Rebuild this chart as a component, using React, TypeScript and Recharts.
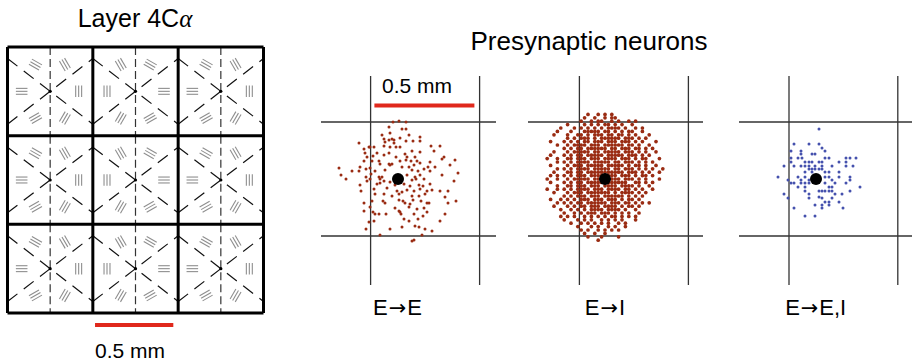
import React from 'react';
import { ScatterChart, Scatter, XAxis, YAxis, ReferenceLine } from 'recharts';

// ---- left panel: layer 4Cα hypercolumn grid, in µm ----
const hcWidth = 545;
const hcHeight = 570;
const hcCols = [0, 1, 2];
const hcRows = [0, 1, 2];
const colType = ['A', 'B', 'A'];

// orientation-bar groups around each pinwheel centre (µm from centre)
const barSpots = [
  [-182, 0], [-94, 172], [94, 172], [182, 0], [94, -172], [-94, -172],
];
// preferred orientation (deg) at each spot, for the two pinwheel types
const orientA = [0, 150, 120, 90, 60, 30];
const orientB = [90, 120, 150, 0, 30, 60];
const barHalf = 37;
const barGap = 19;
// dashed X through the centre meets the cell edge this far above / below (µm)
const crossRise = 211;

// ---- right panels: presynaptic cells relative to the target soma, in µm ----
const eePoints = [
  [-25, 285], [5, 290], [40, 285], [-45, 260], [20, 250], [40, 250],
  [-80, 220], [-40, 230], [55, 220], [-70, 200], [-45, 195], [-30, 200], [-20, 195], [10, 205], [110, 210],
  [-195, 180], [-65, 185], [-20, 180], [40, 190], [75, 190], [110, 190], [165, 165], [210, 165],
  [-170, 150], [-145, 160], [-140, 160], [-120, 160], [-40, 160], [-10, 160], [10, 160], [-70, 165],
  [-165, 130], [-105, 130], [-45, 130], [70, 140], [110, 135], [180, 140], [35, 125],
  [-155, 110], [-125, 115], [-70, 120], [-10, 110], [45, 110], [85, 110], [230, 110], [220, 100], [285, 95],
  [-170, 90], [-130, 90], [-95, 90], [10, 90], [40, 95], [65, 90], [95, 90], [110, 80], [160, 85],
  [-190, 60], [-90, 75], [-45, 75], [-40, 70], [-30, 75], [20, 60], [55, 60], [80, 70], [150, 60], [185, 60], [260, 70],
  [-295, 55], [-230, 40], [-160, 50], [-140, 55], [-115, 40], [-65, 45], [70, 45], [100, 40], [130, 50], [160, 40],
  [-285, 20], [-260, 0], [-195, 40], [-160, 10], [-135, 25], [-95, 10], [-80, 10], [45, 20], [110, 20], [85, 10], [220, 20], [300, 30],
  [-155, -10], [-140, 0], [-90, 0], [-70, -10], [-40, -15], [70, -5], [90, 0], [130, 0], [280, -10],
  [-190, -30], [-105, -25], [-90, -20], [-15, -30], [30, -25], [60, -35], [105, -30], [125, -35], [160, -25],
  [-120, -50], [-55, -45], [-5, -60], [20, -65], [45, -55], [80, -60], [110, -50], [145, -60], [170, -55], [210, -60], [250, -60],
  [-185, -60], [-115, -75], [-70, -75], [-30, -85], [5, -75], [70, -85], [105, -85], [135, -75], [235, -90],
  [-75, -110], [-65, -120], [5, -105], [25, -110], [35, -120], [75, -105], [115, -110], [60, -125], [145, -120], [155, -120], [250, -120], [290, -110], [-170, -120], [-130, -110],
  [-170, -160], [-140, -140], [-125, -165], [-15, -145], [5, -160], [10, -165], [55, -140], [95, -150], [130, -145], [145, -165],
  [-115, -175], [-95, -175], [-60, -175], [15, -175], [80, -175], [125, -185], [235, -175],
  [-145, -215], [-120, -210], [30, -200], [55, -210], [100, -200], [210, -210],
  [-160, -250], [-40, -250], [20, -240], [85, -235], [105, -240], [135, -250], [170, -260],
  [-90, -280], [120, -280], [70, -310], [80, -305],
];

// E->I cells on the 17 µm cell lattice; row j = 19 at top, column index 17 = soma column
const eiPitch = 17;
const eiTopRow = 19;
const eiRows = [
  '..... ..... ..#.. #.#.# ..... ..... .....',
  '..... ..... .#..# ..#.# #.... ..... .....',
  '..... ..... #..#. ##..# .#..# .#... .....',
  '..... .#... .#.#. #.##. #.#.. #.... .....',
  '....# ...#. #.#.# .#.## ##.#. .#.#. .....',
  '...#. ..#.. .#### #.##. #.#.# #..#. .....',
  '..#.. .#..# #.#.# ##.## .##.# .#... #....',
  '..... .#.#. ###.# .#### ##.## #.#.# .....',
  '.#... #.#.# .##.# ##.## #.### .#.#. ..#..',
  '...#. .#.## ##.## #.### ###.# #.#.. #....',
  '..... #.#.# #.### ###.# #.### .##.# .#...',
  '..#.. .#.## ###.# #.### ##.## #.#.# ..#..',
  '.#... #.#.# #.### ##.## ###.# ##.#. #....',
  '#..#. .##.# ##.## #.### #.### .#.## ...#.',
  '...#. #.#.# ###.# ####. ##.## #.#.# .#...',
  '.#... .#.## #.### ##.## ###.# .##.# ..#..',
  '...#. #.#.# ###.# ####. ##.## #.#.# .#..#',
  '..#.. .##.# #.### ##### ###.# ##.#. #..#.',
  '.#.#. #.#.# ##.## ##### #.### .#.## .#...',
  '#..#. .#.## ###.# ##### ##.## #.#.# ...#.',
  '.#... #.#.# #.### ##.## ####. .##.# .#...',
  '...#. .##.# ##.## #.### #.### #.#.. #....',
  '#..#. #.#.# ###.# ##.## ##.## .#.#. .#...',
  '..#.. .#.## #.### ####. #.### #.#.# .....',
  '..... #.#.# ##.## #.### ###.# .#.#. .....',
  '.#..# .#.#. ###.# ##.## #.#.# #.#.. .....',
  '...#. #.#.# #.### ###.# ##.## .#.#. #....',
  '..#.. .#.#. ##.## #.### #.#.# #.#.. .....',
  '....# ..#.# .#.## ##.## ##.#. .#... .....',
  '..... #..#. #.### .###. #.#.# ..#.. .....',
  '....# .#.#. .#.#. #.#.# #.#.# .#... .....',
  '..... #...# .#.#. .#.#. #.#.. .#... .....',
  '..... ..#.. #.#.# .#.#. .#.#. ..... .....',
  '..... ....# ...#. #..#. #..#. ..... .....',
  '..... ..... #.#.. #.#.# .#... ..... .....',
  '..... ..... .#..# ..#.. ..... ..... .....',
  '..... ..... ..#.. .#... .#... ..... .....',
  '..... ..... ..... #.... ..... ..... .....',
];

const eeiPoints = [
  [15, 250], [-110, 175], [-35, 175], [15, 175], [30, 155], [45, 140], [-125, 140], [-75, 140],
  [-75, 125], [-20, 125], [-5, 125],
  [-125, 105], [-90, 105], [-70, 105], [45, 105], [65, 105], [150, 105], [170, 105], [200, 105],
  [-125, 85], [-55, 85], [-35, 85], [-20, 85], [15, 85], [30, 85], [115, 85], [150, 85],
  [-160, 65], [-110, 65], [-75, 65], [-55, 65], [-35, 65], [-5, 65], [30, 65], [80, 65], [150, 65], [185, 65],
  [-35, 50], [-20, 50], [-5, 50], [15, 50], [30, 50],
  [-55, 35], [-20, 35], [45, 35], [65, 35], [115, 35],
  [-190, 10], [-140, -5], [-90, 10], [-55, 10], [45, 10], [65, 10], [115, 10], [170, 10],
  [-125, -20], [-75, -5], [-35, -5], [80, -5], [170, -5],
  [-110, -20], [-75, -20], [-55, -20], [-35, -20], [45, -20], [95, -20], [150, -20],
  [-90, -40], [-55, -40], [65, -40], [80, -40], [220, -40],
  [-55, -60], [15, -60], [30, -60], [45, -60], [65, -60], [80, -60], [170, -60],
  [-160, -75], [-140, -95], [-35, -75], [15, -90], [95, -75], [130, -75],
  [-35, -95], [30, -95], [80, -95], [45, -115], [65, -115], [115, -115],
  [-5, -130], [30, -130], [65, -130], [-110, -145], [30, -145], [135, -145],
  [-55, -185], [-5, -185],
];

// hypercolumn borders around the target cell (µm from soma), per panel
const panels = [
  { pre: 'E', post: 'E', points: eePoints, color: '#9a2c13', r: 1.5, colEdges: [-137, 408], somaX: 397.5 },
  { pre: 'E', post: 'I', points: [] as number[][], color: '#9a2c13', r: 1.85, colEdges: [-128, 417], somaX: 605 },
  { pre: 'E', post: 'E,I', points: eeiPoints, color: '#4551ad', r: 1.5, colEdges: [-135, 409], somaX: 815.7 },
];
const rowEdges = [-285, 285];
const scaleBarUm = 500;

const toXY = (arr: number[][]) => arr.map(([x, y]) => ({ x, y }));

const eiPoints: number[][] = [];
eiRows.forEach((row, r) => {
  row.replace(/ /g, '').split('').forEach((ch, c) => {
    if (ch === '#') eiPoints.push([(c - 17) * eiPitch, (eiTopRow - r) * eiPitch]);
  });
});
panels[1].points = eiPoints;

const dot = (r: number, fill: string) => (p: any) => (
  <circle cx={p.cx} cy={p.cy} r={r} fill={fill} />
);

type Seg = { key: string; a: { x: number; y: number }; b: { x: number; y: number } };
const barSegs: Seg[] = [];
const crossSegs: Seg[] = [];
const axisSegs: Seg[] = [];
const centres: { x: number; y: number }[] = [];
hcRows.forEach((r) => {
  hcCols.forEach((c) => {
    const cx = (c + 0.5) * hcWidth;
    const cy = (r + 0.5) * hcHeight;
    centres.push({ x: cx, y: cy });
    const orient = colType[c] === 'A' ? orientA : orientB;
    barSpots.forEach(([bx, by], i) => {
      const t = (orient[i] * Math.PI) / 180;
      const ux = Math.cos(t);
      const uy = Math.sin(t);
      [-1, 0, 1].forEach((k) => {
        const ox = cx + bx - uy * k * barGap;
        const oy = cy + by + ux * k * barGap;
        barSegs.push({
          key: `b${r}${c}${i}${k}`,
          a: { x: ox - ux * barHalf, y: oy - uy * barHalf },
          b: { x: ox + ux * barHalf, y: oy + uy * barHalf },
        });
      });
    });
    crossSegs.push({ key: `x1${r}${c}`, a: { x: cx - hcWidth / 2, y: cy + crossRise }, b: { x: cx + hcWidth / 2, y: cy - crossRise } });
    crossSegs.push({ key: `x2${r}${c}`, a: { x: cx - hcWidth / 2, y: cy - crossRise }, b: { x: cx + hcWidth / 2, y: cy + crossRise } });
    axisSegs.push({ key: `v${r}${c}`, a: { x: cx, y: cy + hcHeight / 2 }, b: { x: cx, y: cy - hcHeight / 2 } });
  });
});

const font = "'Liberation Sans', Arial, Helvetica, sans-serif";

const Label: React.FC<{ x: number; top: number; size: number; children: React.ReactNode }> = ({ x, top, size, children }) => (
  <div
    style={{
      position: 'absolute',
      left: x - 200,
      width: 400,
      top,
      textAlign: 'center',
      fontSize: size,
      lineHeight: 1,
      whiteSpace: 'nowrap',
      color: '#000',
    }}
  >
    {children}
  </div>
);

const Arrow = () => (
  <span style={{ fontFamily: "'DejaVu Sans', sans-serif", fontSize: '0.95em', margin: '0 1px' }}>{'\u2192'}</span>
);

const LayerGrid = () => (
  <div style={{ position: 'absolute', left: 0, top: 30 }}>
    <ScatterChart width={272} height={300} margin={{ top: 17, bottom: 17, left: 7.5, right: 8.5 }}>
      <XAxis type="number" dataKey="x" hide domain={[0, 3 * hcWidth]} allowDataOverflow />
      <YAxis type="number" dataKey="y" hide domain={[0, 3 * hcHeight]} allowDataOverflow />
      {barSegs.map((s) => (
        <ReferenceLine key={s.key} segment={[s.a, s.b]} stroke="#8e8e8e" strokeWidth={1.1} />
      ))}
      {crossSegs.map((s) => (
        <ReferenceLine key={s.key} segment={[s.a, s.b]} stroke="#111" strokeWidth={1.2} strokeDasharray="12.5 8" />
      ))}
      {axisSegs.map((s) => (
        <ReferenceLine key={s.key} segment={[s.a, s.b]} stroke="#333" strokeWidth={1.2} strokeDasharray="8 4" />
      ))}
      {[0, 1, 2, 3].map((i) => (
        <ReferenceLine key={`gx${i}`} x={i * hcWidth} stroke="#000" strokeWidth={3} />
      ))}
      {[0, 1, 2, 3].map((i) => (
        <ReferenceLine key={`gy${i}`} y={i * hcHeight} stroke="#000" strokeWidth={3} />
      ))}
      <ReferenceLine
        segment={[{ x: 559, y: -77 }, { x: 559 + scaleBarUm, y: -77 }]}
        stroke="#e0281c"
        strokeWidth={4}
        ifOverflow="visible"
      />
      <Scatter data={centres} isAnimationActive={false} shape={dot(1.6, '#000')} />
    </ScatterChart>
  </div>
);

const PresynPanel: React.FC<{ idx: number }> = ({ idx }) => {
  const p = panels[idx];
  return (
    <div style={{ position: 'absolute', left: p.somaX - 80, top: 61.3 }}>
      <ScatterChart width={220} height={230} margin={{ top: 0, right: 0, bottom: 0, left: 0 }}>
        <XAxis type="number" dataKey="x" hide domain={[-400, 700]} allowDataOverflow />
        <YAxis type="number" dataKey="y" hide domain={[-560, 590]} allowDataOverflow />
        <Scatter data={toXY(p.points)} isAnimationActive={false} shape={dot(p.r, p.color)} />
        {p.colEdges.map((x) => (
          <ReferenceLine key={`v${x}`} segment={[{ x, y: -530 }, { x, y: 515 }]} stroke="#333" strokeWidth={1.3} />
        ))}
        {rowEdges.map((y) => (
          <ReferenceLine key={`h${y}`} segment={[{ x: -385, y }, { x: 490, y }]} stroke="#333" strokeWidth={1.3} />
        ))}
        {idx === 0 && (
          <ReferenceLine
            segment={[{ x: -118, y: 367 }, { x: -118 + scaleBarUm, y: 367 }]}
            stroke="#e0281c"
            strokeWidth={4}
          />
        )}
        <Scatter data={[{ x: 0, y: 0 }]} isAnimationActive={false} shape={dot(6, '#000')} />
      </ScatterChart>
    </div>
  );
};

export default function App() {
  return (
    <div
      style={{
        position: 'absolute',
        left: 0,
        top: 0,
        width: 912,
        height: 363,
        overflow: 'hidden',
        background: '#fff',
        fontFamily: font,
      }}
    >
      <LayerGrid />
      {panels.map((p, i) => (
        <PresynPanel key={p.post} idx={i} />
      ))}
      <Label x={135} top={6} size={25}>
        Layer 4C<span style={{ fontFamily: "'Liberation Serif', serif", fontStyle: 'italic' }}>α</span>
      </Label>
      <Label x={589} top={28} size={26}>
        Presynaptic neurons
      </Label>
      <Label x={417} top={75} size={21}>
        0.5 mm
      </Label>
      <Label x={130} top={340} size={21}>
        0.5 mm
      </Label>
      {panels.map((p) => (
        <Label key={`l${p.post}`} x={p.somaX} top={297} size={22}>
          {p.pre}
          <Arrow />
          {p.post}
        </Label>
      ))}
    </div>
  );
}
